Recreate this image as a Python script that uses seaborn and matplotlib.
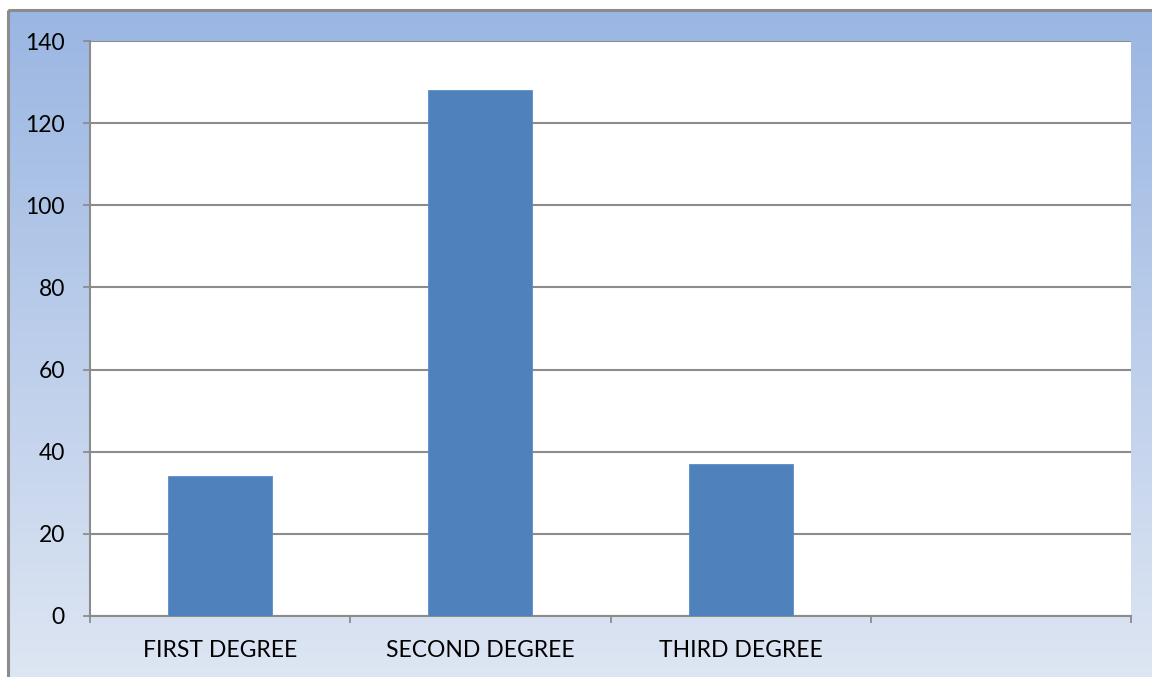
import numpy as np
import pandas as pd
import matplotlib
matplotlib.use("Agg")
import matplotlib.pyplot as plt
from matplotlib.patches import Rectangle
from matplotlib.colors import LinearSegmentedColormap
import seaborn as sns

# Counts per burn degree
categories = ["FIRST DEGREE", "SECOND DEGREE", "THIRD DEGREE", ""]
counts = [34, 128, 37, np.nan]
y_ticks = [0, 20, 40, 60, 80, 100, 120, 140]

df = pd.DataFrame({"degree": categories, "count": counts})

sns.set_theme(style="white")
plt.rcParams["font.family"] = ["Lato", "DejaVu Sans"]

W, H = 1152, 677
fig = plt.figure(figsize=(W / 100, H / 100), dpi=100)
fig.patch.set_facecolor("white")

# Gradient chart-area background with a thin grey frame
bg = fig.add_axes([0, 0, 1, 1], zorder=0)
bg.set_xlim(0, W)
bg.set_ylim(H, 0)
bg.axis("off")
grad = np.linspace(0, 1, 256).reshape(-1, 1)
cmap = LinearSegmentedColormap.from_list("bgfade", ["#9AB6E2", "#DEE6F3"])
bg.imshow(grad, cmap=cmap, aspect="auto", extent=(8, W + 5, H + 5, 10),
          interpolation="bilinear", zorder=0)
bg.add_patch(Rectangle((8, 10), W, H, fill=False, edgecolor="#8C8C8C",
                       linewidth=2.2, zorder=1))

ax = fig.add_axes([90 / W, 1 - 616 / H, (1131 - 90) / W, (616 - 41) / H], zorder=2)
ax.set_facecolor("white")

sns.barplot(data=df, x="degree", y="count", order=categories, color="#4F81BD",
            saturation=1, width=0.4, ax=ax, zorder=3, edgecolor="#5B8CC6",
            linewidth=0.6)

ax.set_ylim(0, 140)
ax.set_xlim(-0.5, len(categories) - 0.5)
ax.set_yticks(y_ticks)
ax.yaxis.grid(True, color="#8C8C8C", linewidth=1.5, zorder=0)
ax.set_axisbelow(True)

ax.set_xlabel("")
ax.set_ylabel("")

# Tick marks sit between categories; labels sit under category centres
ax.set_xticks(range(len(categories)))
ax.set_xticklabels(categories)
ax.set_xticks(np.arange(-0.5, len(categories)), minor=True)
ax.tick_params(axis="x", which="major", length=0, pad=17, labelsize=16.5, colors="black")
ax.tick_params(axis="x", which="minor", length=5, width=1.3, color="#8C8C8C", bottom=True)
ax.tick_params(axis="y", which="major", length=5, width=1.3, color="#8C8C8C",
               pad=13, labelsize=16.5, labelcolor="black", left=True)

for side in ["top", "right"]:
    ax.spines[side].set_visible(False)
for side in ["left", "bottom"]:
    ax.spines[side].set_visible(True)
    ax.spines[side].set_color("#8C8C8C")
    ax.spines[side].set_linewidth(1.5)

fig.savefig("out.png", dpi=100)
